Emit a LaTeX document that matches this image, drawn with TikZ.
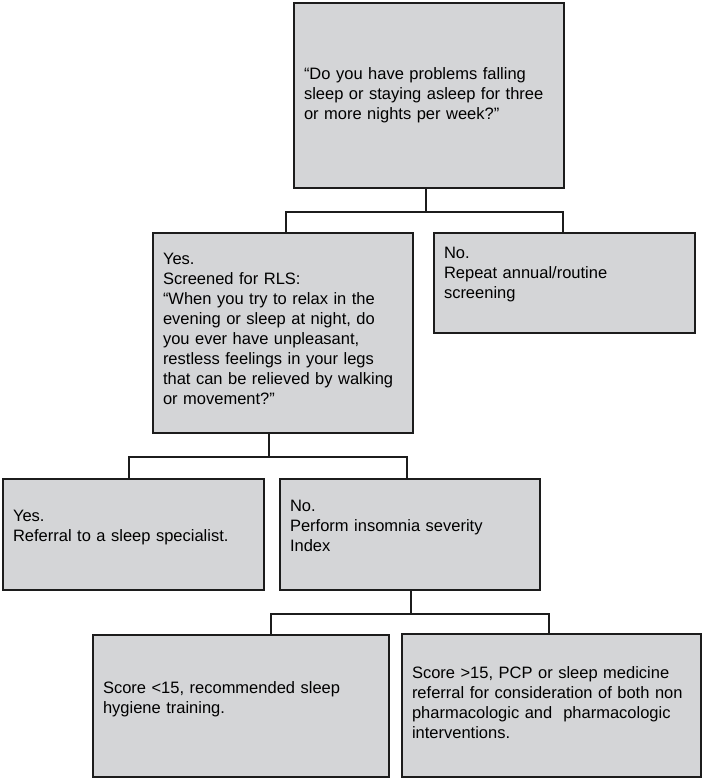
\documentclass[tikz,border=0pt]{standalone}
\usepackage{fontspec}
\setmainfont{Liberation Sans}
\definecolor{boxfill}{RGB}{212,213,215}
\definecolor{boxline}{RGB}{28,28,28}

\begin{document}
\begin{tikzpicture}[x=1pt, y=-1pt, box/.style={rectangle, draw=boxline,
    fill=boxfill, line width=2pt, align=left, inner xsep=10pt,
    font=\fontsize{16.5}{20}\selectfont}, lift/.style={execute at end node={\endgraf\kern#1}},
    link/.style={draw=boxline, line width=1.6pt}]
    \useasboundingbox (0,0) rectangle (704,782);
    \node[box,text width=250pt,minimum height=185pt] (Q) at (429,95.5) {“Do you have problems falling\\ sleep or staying asleep for three\\ or more nights per week?”};
    \node[box,lift=8pt,text width=240pt,minimum height=200pt] (Y) at (283,333) {Yes.\\ Screened for RLS:\\ “When you try to relax in the\\ evening or sleep at night, do\\ you ever have unpleasant,\\ restless feelings in your legs\\ that can be relieved by walking\\ or movement?”};
    \node[box,lift=16pt,text width=241pt,minimum height=100pt] (N) at (564.5,283) {No.\\ Repeat annual/routine\\ screening};
    \node[box,lift=13pt,text width=241pt,minimum height=111pt] (S) at (133.5,534.5) {Yes.\\ Referral to a sleep specialist.};
    \node[box,lift=17pt,text width=240pt,minimum height=111pt] (I) at (410,534.5) {No.\\ Perform insomnia severity\\ Index};
    \node[box,lift=14pt,text width=276pt,minimum height=142pt] (L) at (241,706) {Score <15, recommended sleep\\ hygiene training.};
    \node[box,lift=6pt,text width=279pt,minimum height=143pt] (H) at (551.5,705.5) {Score >15, PCP or sleep medicine\\ referral for consideration of both non\\ pharmacologic and~ pharmacologic\\ interventions.};
    \draw[link] ([xshift=-3pt]Q.south) -- ++(0,23) coordinate (q);
    \draw[link] ([xshift=3pt]Y.north) |- (q) -| ([xshift=-1.5pt]N.north);
    \draw[link] ([xshift=-14pt]Y.south) -- ++(0,23) coordinate (y);
    \draw[link] ([xshift=-4.5pt]S.north) |- (y) -| ([xshift=-3pt]I.north);
    \draw[link] ([xshift=1pt]I.south) -- ++(0,23) coordinate (i);
    \draw[link] ([xshift=30pt]L.north) |- (i) -| ([xshift=-2.5pt]H.north);
\end{tikzpicture}
\end{document}
